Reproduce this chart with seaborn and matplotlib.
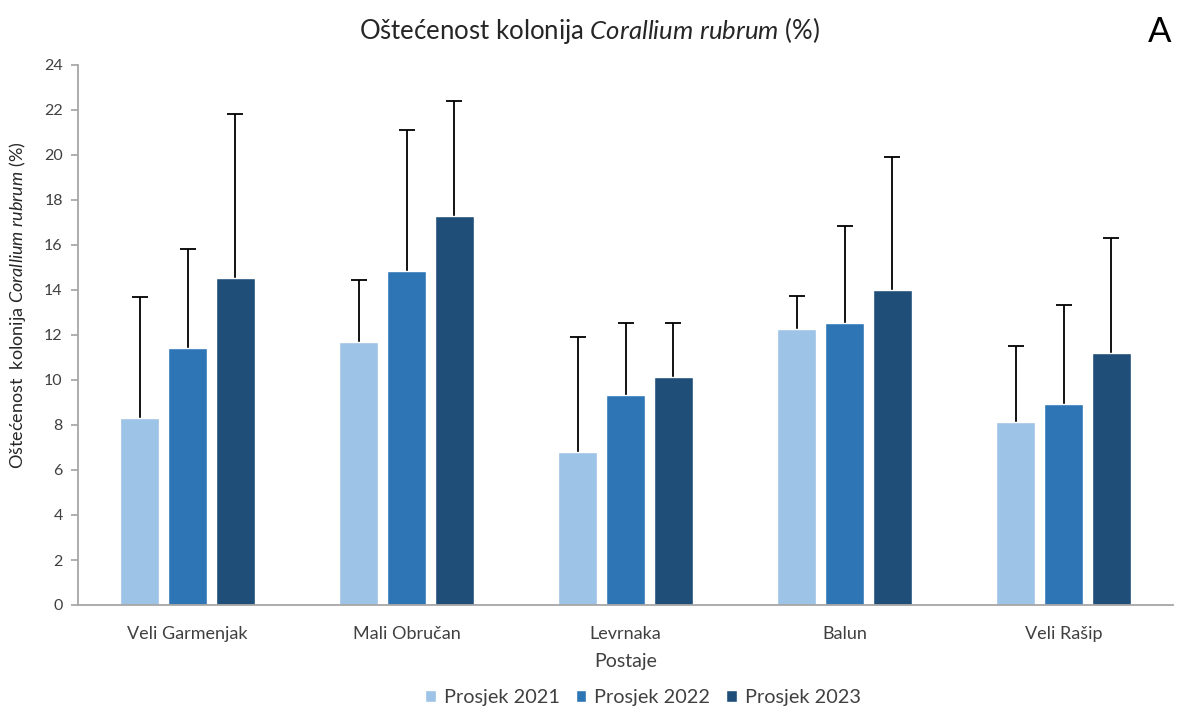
import numpy as np
import pandas as pd
import seaborn as sns
import matplotlib.pyplot as plt

postaje = ["Veli Garmenjak", "Mali Obručan", "Levrnaka", "Balun", "Veli Rašip"]
godine = ["Prosjek 2021", "Prosjek 2022", "Prosjek 2023"]

# srednje vrijednosti (%)
prosjek_2021 = [8.3, 11.7, 6.8, 12.25, 8.15]
prosjek_2022 = [11.4, 14.85, 9.35, 12.55, 8.95]
prosjek_2023 = [14.55, 17.3, 10.15, 14.0, 11.2]

# standardne devijacije (samo prema gore)
sd_2021 = [5.4, 2.75, 5.1, 1.5, 3.35]
sd_2022 = [4.4, 6.25, 3.2, 4.3, 4.4]
sd_2023 = [7.25, 5.1, 2.4, 5.9, 5.1]

boje = ["#9DC3E6", "#2E75B6", "#1F4E79"]

sns.set_theme(style="white")
plt.rcParams["font.family"] = ["Lato", "DejaVu Sans"]
plt.rcParams["mathtext.fontset"] = "custom"
plt.rcParams["mathtext.it"] = "Lato:italic"
plt.rcParams["mathtext.rm"] = "Lato"

redovi = []
for g, vals, sds in zip(godine, [prosjek_2021, prosjek_2022, prosjek_2023], [sd_2021, sd_2022, sd_2023]):
    for p, v, s in zip(postaje, vals, sds):
        redovi.append({"Postaja": p, "Godina": g, "Vrijednost": v, "SD": s})
df = pd.DataFrame(redovi)

fig = plt.figure(figsize=(11.78, 7.11), dpi=100)
ax = fig.add_axes([78 / 1178, 1 - 605 / 711, (1173 - 78) / 1178, (605 - 65) / 711])

sns.barplot(data=df, x="Postaja", y="Vrijednost", hue="Godina", order=postaje,
            hue_order=godine, palette=boje, errorbar=None, width=0.657, gap=0.17,
            saturation=1, ax=ax, legend=True)

# error bars, samo gornji dio
for cont, g in zip(ax.containers, godine):
    sub = df[df["Godina"] == g].set_index("Postaja").loc[postaje]
    xs = [b.get_x() + b.get_width() / 2 for b in cont]
    ys = [b.get_height() for b in cont]
    _, caps, _ = ax.errorbar(xs, ys, yerr=[np.zeros(len(xs)), sub["SD"].values], fmt="none",
                             ecolor="black", elinewidth=1.3, capsize=6, capthick=1.3, zorder=0.5)
    caps[0].set_visible(False)

ax.set_ylim(0, 24)
ax.set_yticks(range(0, 25, 2))
ax.set_xlim(-0.5, 4.5)
ax.tick_params(axis="y", left=True, length=5, color="#A6A6A6", labelsize=11.5, labelcolor="#404040", pad=6)
ax.tick_params(axis="x", bottom=False, labelsize=13, labelcolor="#404040", pad=9)
for s in ["top", "right"]:
    ax.spines[s].set_visible(False)
for s in ["left", "bottom"]:
    ax.spines[s].set_color("#A6A6A6")
    ax.spines[s].set_linewidth(1.3)

ax.set_xlabel("Postaje", fontsize=14, color="#404040", labelpad=8)
ax.set_ylabel(r"Oštećenost  kolonija $\it{Corallium\ rubrum}$ (%)", fontsize=13, color="#262626")
ax.yaxis.set_label_coords(-50 / 1095, 300 / 540)
fig.text(590 / 1178, 1 - 30 / 711, r"Oštećenost kolonija $\it{Corallium\ rubrum}$ (%)",
         ha="center", va="center", fontsize=18.5, color="#262626")
fig.text(1160 / 1178, 1 - 32 / 711, "A", ha="center", va="center", fontsize=25, color="black")

h, l = ax.get_legend_handles_labels()
ax.get_legend().remove()
fig.legend(h, l, loc="center", bbox_to_anchor=(643 / 1178, 1 - 698 / 711), ncol=3, frameon=False,
           fontsize=14.3, handlelength=0.55, handleheight=0.55, handletextpad=0.4, columnspacing=0.8,
           labelcolor="#404040")

fig.savefig("out.png", dpi=100)
